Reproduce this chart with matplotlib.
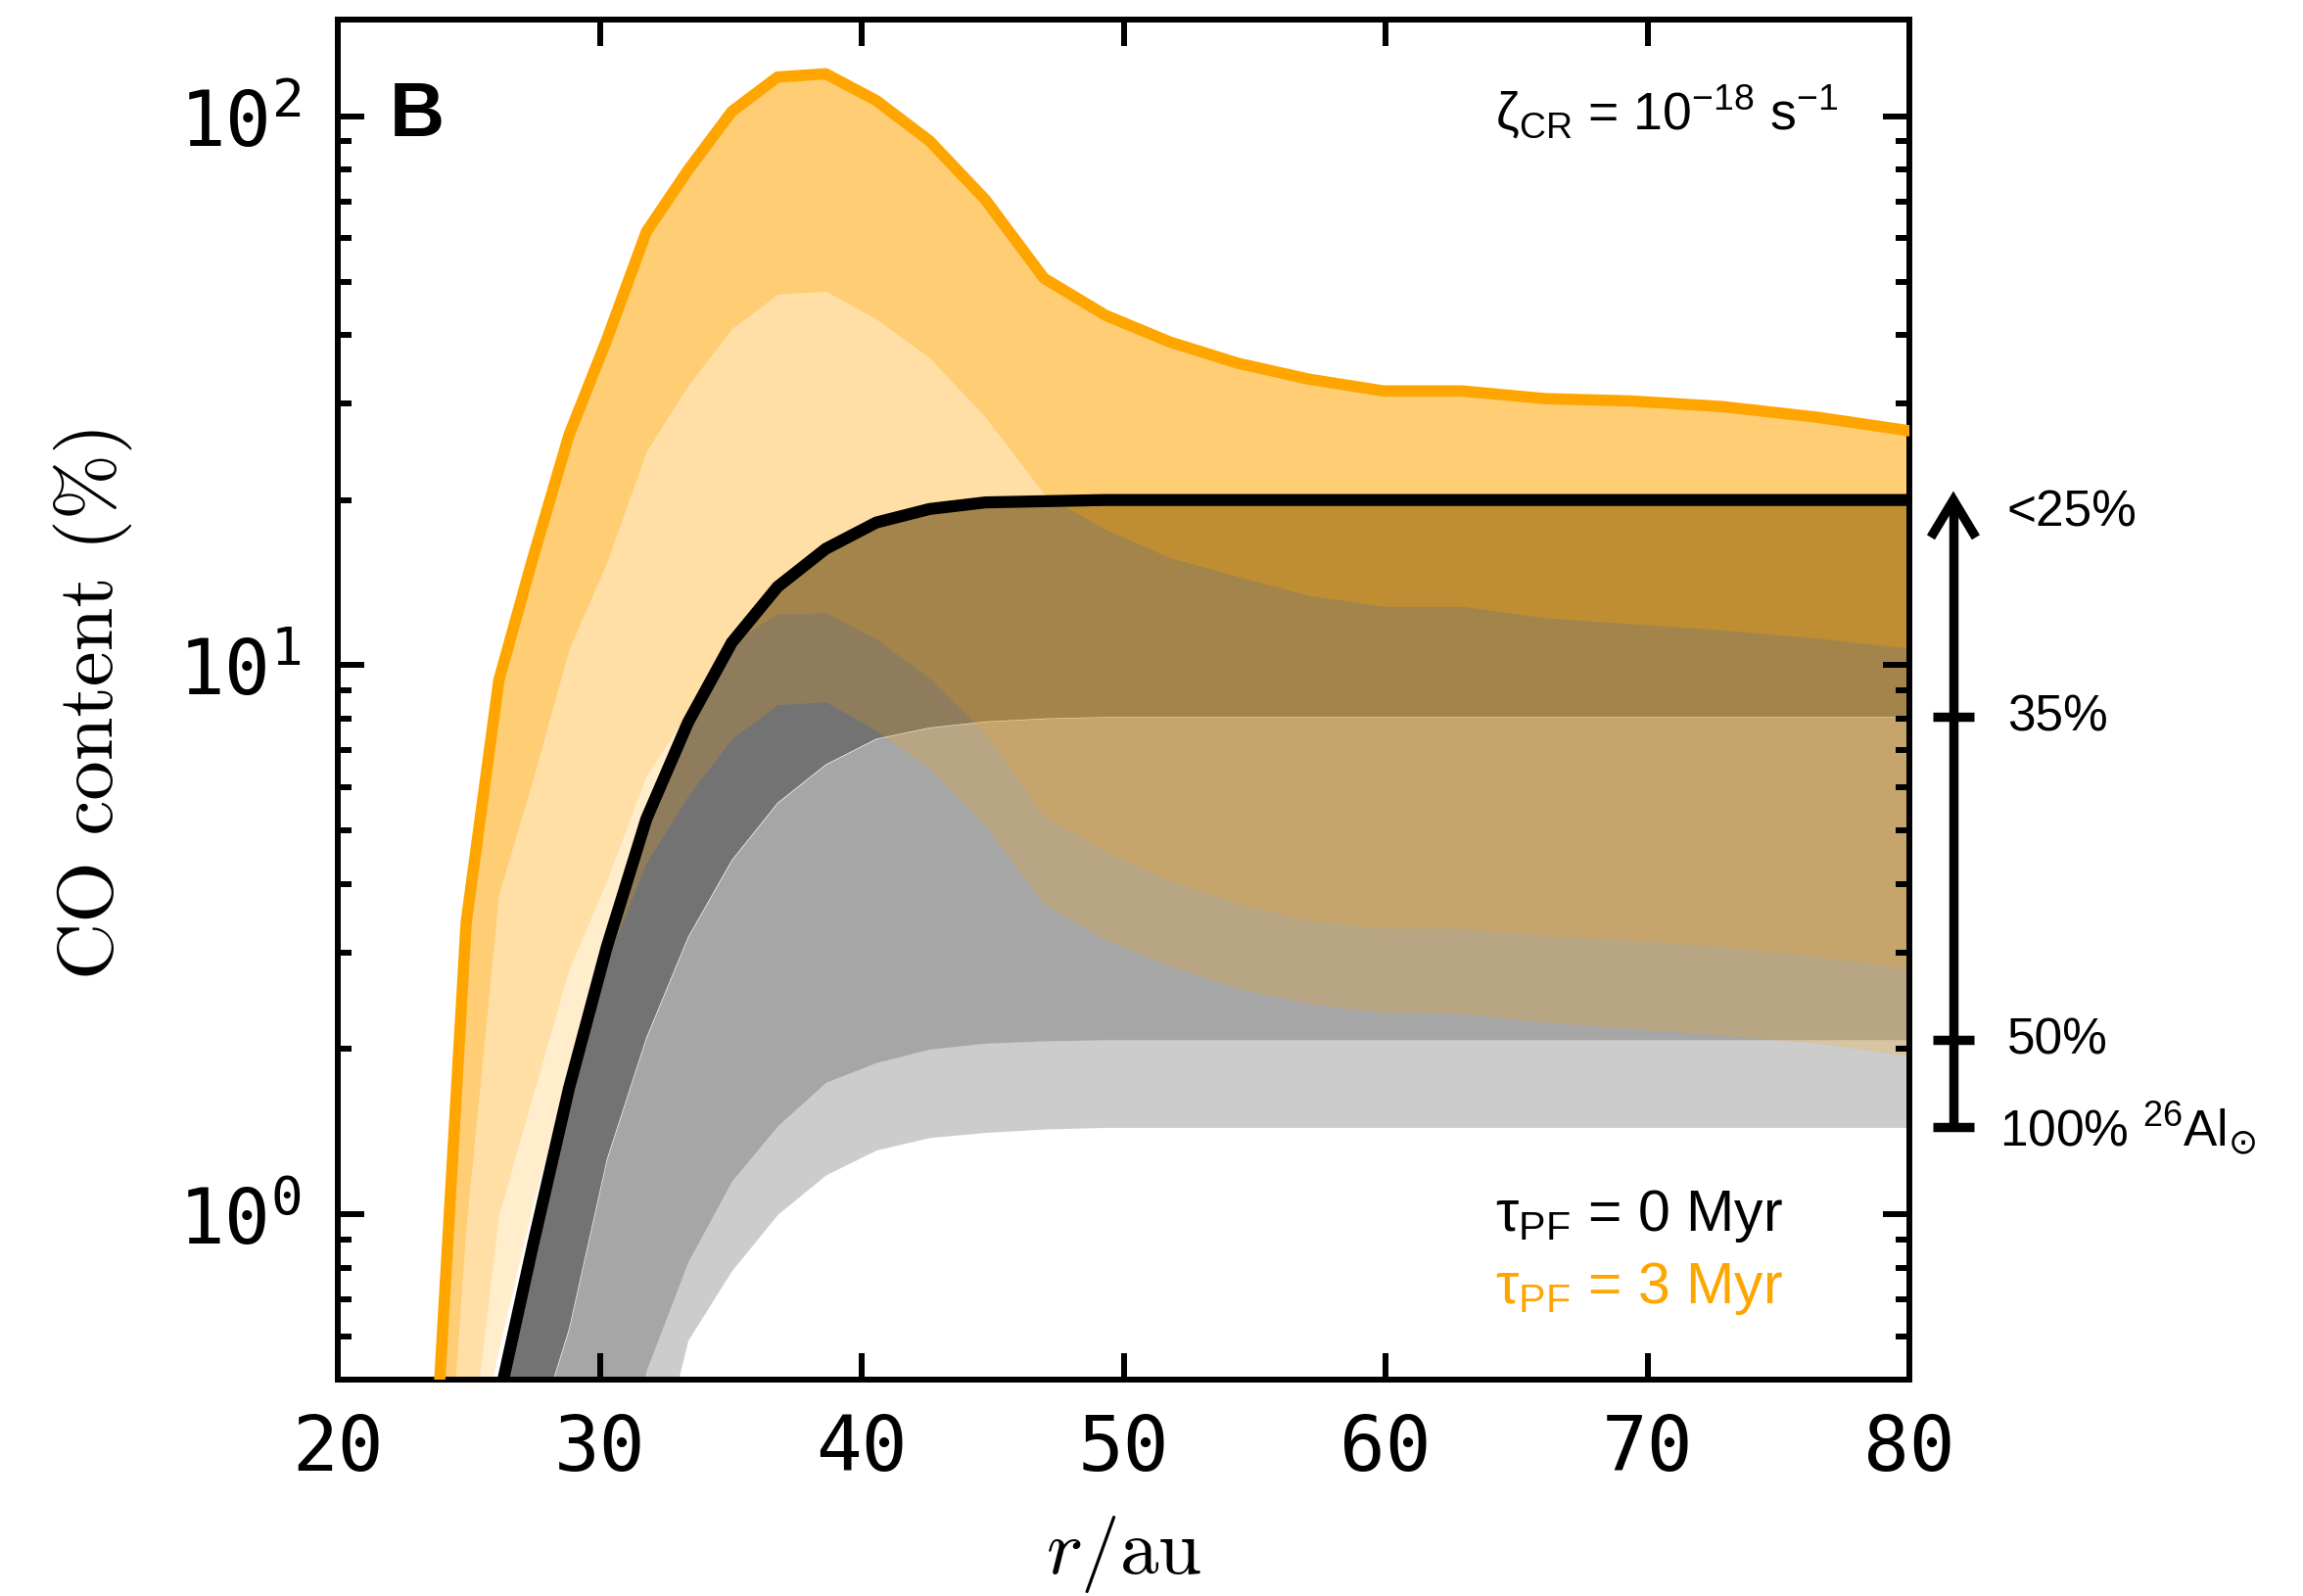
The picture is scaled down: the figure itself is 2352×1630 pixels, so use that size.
import matplotlib
matplotlib.use("Agg")
import matplotlib.pyplot as plt
import matplotlib.transforms as mtransforms
from matplotlib.ticker import NullFormatter

# ---------------- data ----------------
r_au = [23.72, 24.90, 26.15, 27.45, 28.83, 30.27, 31.78, 33.37, 35.04, 36.79,
        38.63, 40.56, 42.59, 44.72, 46.96, 49.31, 51.77, 54.36, 57.08, 59.93,
        62.93, 66.08, 69.38, 72.85, 76.49, 80.32]

# tau_PF = 0 Myr  (levels: <25 %, 35 %, 50 %, 100 % 26Al)
tau0_25 = [0.08, 0.20, 0.46, 0.88, 1.70, 3.07, 5.25, 7.87, 11.0, 13.9,
           16.3, 18.2, 19.26, 19.8, 19.9, 20.0, 20.0, 20.0, 20.0, 20.0,
           20.0, 20.0, 20.0, 20.0, 20.0, 20.0]
tau0_35 = [0.02, 0.05, 0.12, 0.38, 0.62, 1.26, 2.10, 3.20, 4.42, 5.62,
           6.60, 7.35, 7.70, 7.90, 8.00, 8.05, 8.05, 8.05, 8.05, 8.05,
           8.05, 8.05, 8.05, 8.05, 8.05, 8.05]
tau0_50 = [0.01, 0.02, 0.04, 0.08, 0.13, 0.25, 0.52, 0.82, 1.15, 1.45,
           1.74, 1.89, 2.00, 2.05, 2.07, 2.08, 2.08, 2.08, 2.08, 2.08,
           2.08, 2.08, 2.08, 2.08, 2.08, 2.08]
tau0_100 = [0.01, 0.01, 0.02, 0.04, 0.08, 0.15, 0.29, 0.59, 0.79, 1.00,
            1.18, 1.31, 1.38, 1.41, 1.43, 1.44, 1.44, 1.44, 1.44, 1.44,
            1.44, 1.44, 1.44, 1.44, 1.44, 1.44]

# tau_PF = 3 Myr
tau3_25 = [0.36, 3.4, 9.4, 15.7, 26.3, 39.2, 61.6, 79.8, 102.0, 117.9,
           119.5, 106.8, 90.2, 70.5, 50.7, 43.4, 38.8, 35.5, 33.2, 31.6,
           31.6, 30.6, 30.3, 29.6, 28.3, 26.6]
tau3_35 = [0.15, 0.95, 3.83, 6.2, 10.7, 15.4, 24.5, 32.3, 41.0, 47.4,
           48.0, 42.7, 36.3, 28.3, 20.5, 17.66, 15.7, 14.5, 13.4, 12.8,
           12.8, 12.2, 11.9, 11.6, 11.2, 10.7]
tau3_50 = [0.10, 0.32, 1.00, 1.65, 2.80, 4.05, 6.30, 8.20, 11.0, 12.4,
           12.45, 11.16, 9.47, 7.50, 5.33, 4.58, 4.05, 3.68, 3.43, 3.32,
           3.32, 3.22, 3.16, 3.07, 2.95, 2.79]
tau3_100 = [0.05, 0.30, 0.57, 1.04, 1.82, 2.90, 4.37, 5.78, 7.35, 8.48,
            8.58, 7.60, 6.49, 5.11, 3.68, 3.16, 2.83, 2.58, 2.42, 2.33,
            2.32, 2.24, 2.18, 2.12, 2.05, 1.93]

x_ticks = [20, 30, 40, 50, 60, 70, 80]
x_ticklabels = ["20", "30", "40", "50", "60", "70", "80"]
y_ticks = [1, 10, 100]
y_ticklabels = [r"$\mathdefault{10^{0}}$", r"$\mathdefault{10^{1}}$",
                r"$\mathdefault{10^{2}}$"]

scale_levels = [20.0, 8.05, 2.08, 1.44]
scale_labels = ["<25%", "35%", "50%", r"100% $\mathregular{^{26}}$Al$_{\odot}$"]

band_alphas = [0.55, 0.35, 0.2]

# ---------------- figure ----------------
W, H = 2352, 1631
fig = plt.figure(figsize=(W / 100, H / 100), dpi=100)
ax = fig.add_axes([345 / W, 1 - 1410 / H, 1605 / W, 1389 / H])

tau0_levels = [tau0_25, tau0_35, tau0_50, tau0_100]
tau3_levels = [tau3_25, tau3_35, tau3_50, tau3_100]

for i in range(3):
    ax.fill_between(r_au, tau0_levels[i], tau0_levels[i + 1], color="black",
                    alpha=band_alphas[i], lw=0, zorder=1)
for i in range(3):
    ax.fill_between(r_au, tau3_levels[i], tau3_levels[i + 1], color="orange",
                    alpha=band_alphas[i], lw=0, zorder=1.5)

ax.plot(r_au, tau0_25, color="black", lw=8.8, zorder=3)
ax.plot(r_au, tau3_25, color="orange", lw=8.3, zorder=3)

ax.set_yscale("log")
ax.set_xlim(20, 80)
ax.set_ylim(0.5, 150)

ax.set_xticks(x_ticks, x_ticklabels)
ax.set_yticks(y_ticks, y_ticklabels)
ax.yaxis.set_minor_formatter(NullFormatter())

ax.tick_params(which="both", direction="in", top=True, right=True, width=4.3,
               labelfontfamily="DejaVu Sans Mono", labelsize=56)
ax.tick_params(which="major", length=19.5)
ax.tick_params(which="minor", length=10)
ax.tick_params(axis="x", pad=23)
ax.tick_params(axis="y", pad=27)
for sp in ax.spines.values():
    sp.set_linewidth(4.3)

ax.set_ylabel("CO content (%)", fontfamily="cmr10", fontsize=58)
ax.set_xlabel(r"$r/\mathrm{au}$", fontsize=57, math_fontfamily="cm")
ax.yaxis.set_label_coords(-0.131, 0.5)
ax.xaxis.set_label_coords(0.5, -0.098)

# ---------------- annotations ----------------
ax.text(0.033, 0.915, "B", transform=ax.transAxes, fontsize=56,
        fontweight="bold", family="Liberation Sans", va="baseline")
ax.text(0.7365, 0.9194,
        r"ζ$_\mathregular{CR}$ = 10$^\mathregular{-18}$ s$^\mathregular{-1}$",
        transform=ax.transAxes, fontsize=38.5, family="Liberation Sans",
        va="baseline")
ax.text(0.7365, 0.110, r"τ$_\mathregular{PF}$ = 0 Myr", transform=ax.transAxes,
        fontsize=42.5, family="Liberation Sans", va="baseline", color="black")
ax.text(0.7365, 0.0569, r"τ$_\mathregular{PF}$ = 3 Myr", transform=ax.transAxes,
        fontsize=42.5, family="Liberation Sans", va="baseline", color="orange")

# right-hand scale arrow
trans = mtransforms.blended_transform_factory(ax.transAxes, ax.transData)
xa = 1.028
dxt = 0.0131
dxh = 0.0143
ax.plot([xa, xa], [scale_levels[-1], scale_levels[0]], color="black", lw=6.8,
        transform=trans, clip_on=False, solid_capstyle="butt")
ax.plot([xa - dxh, xa, xa + dxh],
        [scale_levels[0] / 10 ** 0.068, scale_levels[0], scale_levels[0] / 10 ** 0.068],
        color="black", lw=6.8, transform=trans, clip_on=False,
        solid_joinstyle="miter", solid_capstyle="butt")
for lev in scale_levels[1:]:
    ax.plot([xa - dxt, xa + dxt], [lev, lev], color="black", lw=6.8,
            transform=trans, clip_on=False, solid_capstyle="butt")

label_x = [1.0623, 1.0623, 1.0623, 1.0571]
label_y = [19.0, 8.05, 2.08, 1.44]
for lx, ly, lab in zip(label_x, label_y, scale_labels):
    ax.text(lx, ly, lab, transform=trans, fontsize=37, family="Liberation Sans",
            va="center", ha="left", clip_on=False)

fig.savefig("out.png", dpi=100)
